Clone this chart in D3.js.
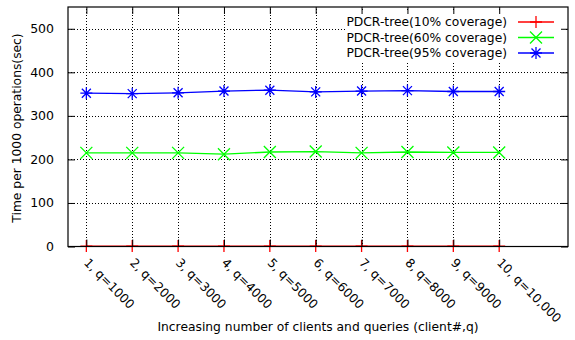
<!DOCTYPE html>
<html>
<head>
<meta charset="utf-8">
<script src="https://cdn.jsdelivr.net/npm/d3@7"></script>
<style>
  body { margin: 0; background: #fff; }
  svg { display: block; }
  text { font-family: "DejaVu Sans", Verdana, sans-serif; }
</style>
</head>
<body>
<svg id="chart" width="575" height="340"></svg>
<script>
// Client counts (x positions) and their labels
const clients = [1, 2, 3, 4, 5, 6, 7, 8, 9, 10];
const clientLabels = ["1, q=1000", "2, q=2000", "3, q=3000", "4, q=4000", "5, q=5000",
                      "6, q=6000", "7, q=7000", "8, q=8000", "9, q=9000", "10, q=10,000"];
const yTicks = [0, 100, 200, 300, 400, 500];

// Time per 1000 operations (sec) for each coverage level
const cov10 = [1, 1, 1, 1, 1, 1, 1, 1, 1, 1];
const cov60 = [215, 215, 215, 212, 217, 218, 215, 217, 216, 216];
const cov95 = [352, 351, 353, 357, 359, 355, 357, 358, 356, 356];

const seriesNames = ["PDCR-tree(10% coverage)", "PDCR-tree(60% coverage)", "PDCR-tree(95% coverage)"];
const seriesColors = ["#ff0000", "#00ff00", "#0000ff"];
const seriesShapes = ["plus", "cross", "star"];

const svg = d3.select("#chart");
const plotL = 68, plotR = 568, plotT = 7, plotB = 246.5;

const x = d3.scaleLinear().domain([0.6, 11.5]).range([plotL, plotR]);
const y = d3.scaleLinear().domain([0, 550]).range([plotB, plotT]);

// Grid (dotted)
const grid = svg.append("g").attr("stroke", "#000").attr("stroke-width", 1)
  .attr("stroke-dasharray", "1,2").attr("shape-rendering", "crispEdges");
grid.selectAll("line.h").data(yTicks.filter(d => d > 0)).join("line").attr("class", "h")
  .attr("x1", plotL).attr("x2", plotR)
  .attr("y1", d => Math.round(y(d)) + 0.5).attr("y2", d => Math.round(y(d)) + 0.5);
grid.selectAll("line.v").data(clients).join("line").attr("class", "v")
  .attr("x1", d => Math.round(x(d)) + 0.5).attr("x2", d => Math.round(x(d)) + 0.5)
  .attr("y1", plotB).attr("y2", plotT);

// Marker path generator
function markerPath(shape, s) {
  if (shape === "plus") return `M${-s},0H${s}M0,${-s}V${s}`;
  if (shape === "cross") return `M${-s},${-s}L${s},${s}M${-s},${s}L${s},${-s}`;
  return `M${-s},0H${s}M0,${-s}V${s}M${-s*0.75},${-s*0.75}L${s*0.75},${s*0.75}M${-s*0.75},${s*0.75}L${s*0.75},${-s*0.75}`;
}

const seriesData = [cov10, cov60, cov95];
const line = d3.line().x((d, i) => x(clients[i])).y(d => y(d));

seriesData.forEach((vals, k) => {
  const g = svg.append("g");
  g.append("path").datum(vals).attr("d", line)
    .attr("fill", "none").attr("stroke", seriesColors[k]).attr("stroke-width", 1.3);
  g.selectAll("path.m").data(vals).join("path").attr("class", "m")
    .attr("transform", (d, i) => `translate(${x(clients[i])},${y(d)})`)
    .attr("d", markerPath(seriesShapes[k], 6))
    .attr("fill", "none").attr("stroke", seriesColors[k]).attr("stroke-width", 1.3);
});

// Legend box (white, no border)
const legend = svg.append("g");
legend.append("rect").attr("x", 347).attr("y", 10).attr("width", 218).attr("height", 53).attr("fill", "#fff");
seriesNames.forEach((name, k) => {
  const cy = 22 + k * 15.5;
  legend.append("text").attr("x", 507).attr("y", cy).attr("dy", "0.35em")
    .attr("text-anchor", "end").attr("font-size", 12.3).text(name);
  legend.append("line").attr("x1", 518).attr("x2", 554).attr("y1", cy).attr("y2", cy)
    .attr("stroke", seriesColors[k]).attr("stroke-width", 1.3);
  legend.append("path").attr("transform", `translate(536,${cy})`)
    .attr("d", markerPath(seriesShapes[k], 6))
    .attr("fill", "none").attr("stroke", seriesColors[k]).attr("stroke-width", 1.3);
});

// Axes with inward ticks, mirrored on top and right
const axisG = svg.append("g");
axisG.append("g").attr("transform", `translate(${plotL},0)`)
  .call(d3.axisLeft(y).tickValues(yTicks).tickSize(-7).tickPadding(14))
  .call(g => g.select(".domain").remove());
axisG.append("g").attr("transform", `translate(${plotR},0)`)
  .call(d3.axisRight(y).tickValues(yTicks).tickSize(-7).tickFormat(""))
  .call(g => g.select(".domain").remove());
axisG.append("g").attr("transform", `translate(0,${plotB})`)
  .call(d3.axisBottom(x).tickValues(clients).tickSize(-7).tickFormat(""))
  .call(g => g.select(".domain").remove());
axisG.append("g").attr("transform", `translate(0,${plotT})`)
  .call(d3.axisTop(x).tickValues(clients).tickSize(-7).tickFormat(""))
  .call(g => g.select(".domain").remove());
axisG.selectAll("text").attr("font-size", 12.5).attr("fill", "#000")
  .style("font-family", "'DejaVu Sans', Verdana, sans-serif");

// Plot border
svg.append("rect").attr("x", plotL).attr("y", plotT).attr("width", plotR - plotL).attr("height", plotB - plotT)
  .attr("fill", "none").attr("stroke", "#000").attr("stroke-width", 1.2);

// Rotated x tick labels
svg.append("g").selectAll("text").data(clients).join("text")
  .attr("transform", (d, i) => `translate(${x(d) - 3},${plotB + 17}) rotate(45)`)
  .attr("font-size", 12.3).text((d, i) => clientLabels[i]);

// Axis titles
svg.append("text").attr("x", 318).attr("y", 331).attr("text-anchor", "middle")
  .attr("font-size", 12.3).text("Increasing number of clients and queries (client#,q)");
svg.append("text").attr("transform", "translate(21,128) rotate(-90)").attr("text-anchor", "middle")
  .attr("font-size", 12.3).text("Time per 1000 operations(sec)");
</script>
</body>
</html>
